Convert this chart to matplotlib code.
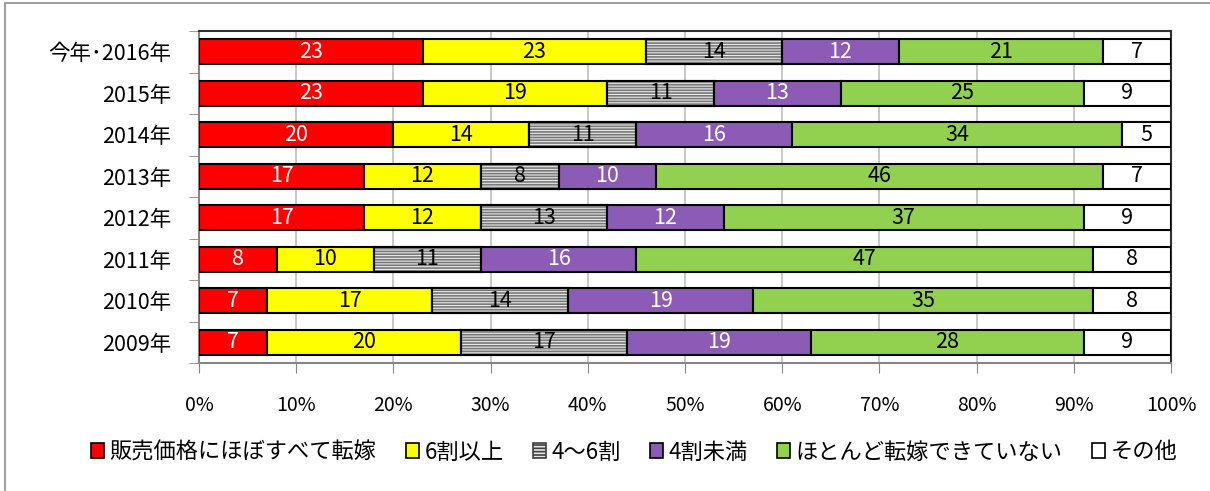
import matplotlib
matplotlib.use('Agg')
import matplotlib.pyplot as plt
from matplotlib.patches import Patch
from matplotlib.lines import Line2D
import numpy as np

plt.rcParams['font.family'] = ['Noto Sans CJK JP', 'DejaVu Sans']
plt.rcParams['hatch.linewidth'] = 1.2

# 上から下の順
years = ["今年･2016年", "2015年", "2014年", "2013年", "2012年", "2011年", "2010年", "2009年"]
series_names = ["販売価格にほぼすべて転嫁", "6割以上", "4～6割", "4割未満", "ほとんど転嫁できていない", "その他"]
zenbu   = [23, 23, 20, 17, 17, 8, 7, 7]
rokuwari = [23, 19, 14, 12, 12, 10, 17, 20]
yon_roku = [14, 11, 11, 8, 13, 11, 14, 17]
yon_miman = [12, 13, 16, 10, 12, 16, 19, 19]
hotondo = [21, 25, 34, 46, 37, 47, 35, 28]
sonota  = [7, 9, 5, 7, 9, 8, 8, 9]
xticks = [0, 10, 20, 30, 40, 50, 60, 70, 80, 90, 100]

values = [zenbu, rokuwari, yon_roku, yon_miman, hotondo, sonota]
colors = ["#ff0000", "#ffff00", "#e6e6e6", "#8b5bb5", "#92d050", "#ffffff"]
text_colors = ["white", "black", "black", "white", "black", "black"]

fig = plt.figure(figsize=(12.1, 4.91), dpi=100)
ax = fig.add_axes([199 / 1210, 1 - 363 / 491, 972 / 1210, 332 / 491])

y = np.arange(len(years))
left = np.zeros(len(years))
for i, (vals, col, tc) in enumerate(zip(values, colors, text_colors)):
    vals = np.array(vals, dtype=float)
    ax.barh(y, vals, left=left, height=0.6, color=col, edgecolor='black',
            linewidth=1.5, zorder=3)
    if i == 2:
        # 横縞模様
        ax.barh(y, vals, left=left, height=0.6, color='none', edgecolor='#7a7a7a',
                hatch='------', linewidth=0, zorder=3.5)
        ax.barh(y, vals, left=left, height=0.6, fill=False, edgecolor='black',
                linewidth=1.5, zorder=4)
    for yy, l, v in zip(y, left, vals):
        ax.text(l + v / 2, yy, f"{int(v)}", ha='center', va='center',
                color=tc, fontsize=15.5, zorder=5)
    left += vals

ax.set_xlim(0, 100)
ax.set_ylim(len(years) - 0.5, -0.5)
ax.set_xticks(xticks)
ax.set_xticklabels([f"{t}%" for t in xticks], fontsize=14)
ax.tick_params(axis='x', length=7, pad=16, color='#868686')
ax.set_yticks(y)
ax.set_yticklabels(years, fontsize=15.5)
ax.tick_params(axis='y', length=0, pad=20)
ax.set_yticks(np.arange(len(years) + 1) - 0.5, minor=True)
ax.tick_params(axis='y', which='minor', length=7, color='#868686')
ax.grid(axis='x', color='#bfbfbf', linewidth=1.2, zorder=0)
ax.set_axisbelow(True)

for side in ['left', 'bottom']:
    ax.spines[side].set_color('#868686')
    ax.spines[side].set_linewidth(1.5)
for side in ['top', 'right']:
    ax.spines[side].set_color('#303030')
    ax.spines[side].set_linewidth(1.5)

handles = []
for i, col in enumerate(colors):
    if i == 2:
        handles.append(Patch(facecolor=col, edgecolor='#404040', hatch='-----', linewidth=1.2))
    else:
        handles.append(Patch(facecolor=col, edgecolor='black', linewidth=1.2))
fig.legend(handles, series_names, loc='center', bbox_to_anchor=(0.524, 1 - 452 / 491),
           ncol=6, frameon=False, fontsize=16, handlelength=0.6, handleheight=0.65,
           handletextpad=0.25, columnspacing=1.3)

# 外枠
fig.add_artist(Line2D([5 / 1210, 5 / 1210, 1.0], [0.0, 1 - 3 / 491, 1 - 3 / 491],
                      transform=fig.transFigure, color='#a0a0a0', linewidth=1.5))

fig.savefig('out.png', dpi=100)
